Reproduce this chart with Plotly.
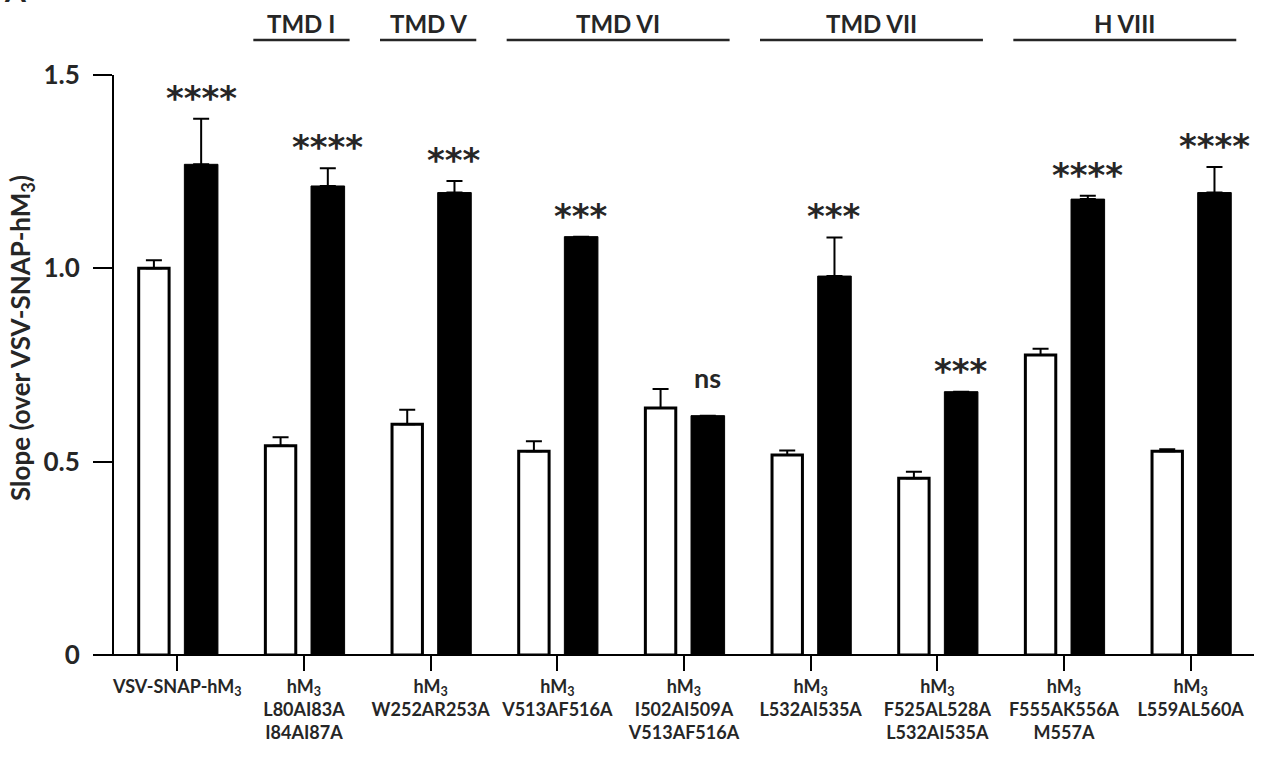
import plotly.graph_objects as go

# ---- data ----
categories = [
    "VSV-SNAP-hM<sub>3</sub>",
    "hM<sub>3</sub><br>L80AI83A<br>I84AI87A",
    "hM<sub>3</sub><br>W252AR253A",
    "hM<sub>3</sub><br>V513AF516A",
    "hM<sub>3</sub><br>I502AI509A<br>V513AF516A",
    "hM<sub>3</sub><br>L532AI535A",
    "hM<sub>3</sub><br>F525AL528A<br>L532AI535A",
    "hM<sub>3</sub><br>F555AK556A<br>M557A",
    "hM<sub>3</sub><br>L559AL560A",
]
white_vals = [1.000, 0.541, 0.597, 0.527, 0.639, 0.517, 0.457, 0.776, 0.527]
white_err = [0.021, 0.022, 0.037, 0.026, 0.049, 0.012, 0.017, 0.016, 0.005]
black_vals = [1.269, 1.213, 1.196, 1.082, 0.619, 0.980, 0.681, 1.179, 1.196]
black_err = [0.118, 0.046, 0.030, 0.000, 0.000, 0.100, 0.000, 0.009, 0.066]
significance = ["****", "****", "***", "***", "ns", "***", "***", "****", "****"]

group_names = ["TMD I", "TMD V", "TMD VI", "TMD VII", "H VIII"]
group_first = [1, 2, 3, 5, 7]
group_last = [1, 2, 4, 6, 8]

y_tickvals = [0, 0.5, 1.0, 1.5]
y_ticktext = ["0", "0.5", "1.0", "1.5"]
y_title = "Slope (over VSV-SNAP-hM<sub>3</sub>)"

# ---- figure ----
x_idx = list(range(len(categories)))
TXT = "#262626"
FONT = "Lato"

fig = go.Figure()
fig.add_trace(go.Bar(
    x=x_idx, y=white_vals, width=0.24, offset=-0.305,
    marker=dict(color="white", line=dict(color="black", width=3)),
    error_y=dict(type="data", array=white_err, symmetric=False,
                 arrayminus=[0] * len(white_err),
                 color="black", thickness=2, width=8),
    showlegend=False,
))
fig.add_trace(go.Bar(
    x=x_idx, y=black_vals, width=0.265, offset=0.0555,
    marker=dict(color="black", line=dict(color="black", width=1)),
    error_y=dict(type="data", array=black_err, symmetric=False,
                 arrayminus=[0] * len(black_err),
                 color="black", thickness=2, width=8),
    showlegend=False,
))

annotations = []
for i, s in enumerate(significance):
    top = black_vals[i] + black_err[i]
    if s == "ns":
        annotations.append(dict(
            x=i + 0.188, y=top, xref="x", yref="y", text=s, showarrow=False,
            yanchor="bottom", yshift=20,
            font=dict(family=FONT, size=27, color=TXT, weight="bold")))
    else:
        annotations.append(dict(
            x=i + 0.188, y=top, xref="x", yref="y", text=s, showarrow=False,
            yanchor="bottom", yshift=-1,
            font=dict(family="DejaVu Sans", size=34, color=TXT, weight="bold")))

shapes = []
for name, f, l in zip(group_names, group_first, group_last):
    x0, x1 = f - 0.40, l + 0.36
    shapes.append(dict(type="line", xref="x", yref="paper", x0=x0, x1=x1,
                       y0=1.0603, y1=1.0603, line=dict(color="#262626", width=2.5)))
    annotations.append(dict(x=(x0 + x1) / 2, y=1.088, xref="x", yref="paper",
                            text=name, showarrow=False, yanchor="middle",
                            font=dict(family=FONT, size=24, color=TXT, weight="bold")))

# x baseline extension to the left of the y axis
shapes.append(dict(type="line", xref="paper", yref="paper", x0=-0.0167, x1=1.0,
                   y0=0, y1=0, line=dict(color="black", width=2)))

# y-axis title
annotations.append(dict(x=(22 - 114) / 1140, y=0.5466, xref="paper", yref="paper",
                        text=y_title, showarrow=False, textangle=-90,
                        xanchor="center", yanchor="middle",
                        font=dict(family=FONT, size=26, color=TXT, weight="bold")))

# partially visible panel letter
annotations.append(dict(x=0.0, y=1.112, xref="paper", yref="paper", text="A",
                        showarrow=False, xanchor="left", yanchor="bottom", xshift=-112,
                        font=dict(family=FONT, size=30, color=TXT, weight="bold")))

fig.update_layout(
    width=1266, height=772,
    margin=dict(l=114, r=12, t=75, b=117),
    paper_bgcolor="white", plot_bgcolor="white",
    barmode="overlay",
    shapes=shapes, annotations=annotations,
    xaxis=dict(
        range=[-0.5, 8.5], tickmode="array", tickvals=x_idx, ticktext=categories,
        ticks="outside", ticklen=15, tickwidth=2, tickcolor="black",
        showline=False, showgrid=False, zeroline=False,
        tickfont=dict(family=FONT, size=18, color=TXT, weight="bold"),
        tickangle=0,
    ),
    yaxis=dict(
        range=[0, 1.5], tickmode="array", tickvals=y_tickvals, ticktext=y_ticktext,
        ticks="outside", ticklen=19, tickwidth=2, tickcolor="black",
        showline=True, linewidth=2, linecolor="black",
        showgrid=False, zeroline=False, ticklabelstandoff=8,
        tickfont=dict(family=FONT, size=26, color=TXT, weight="bold"),
    ),
)

fig.write_html("out.html")
